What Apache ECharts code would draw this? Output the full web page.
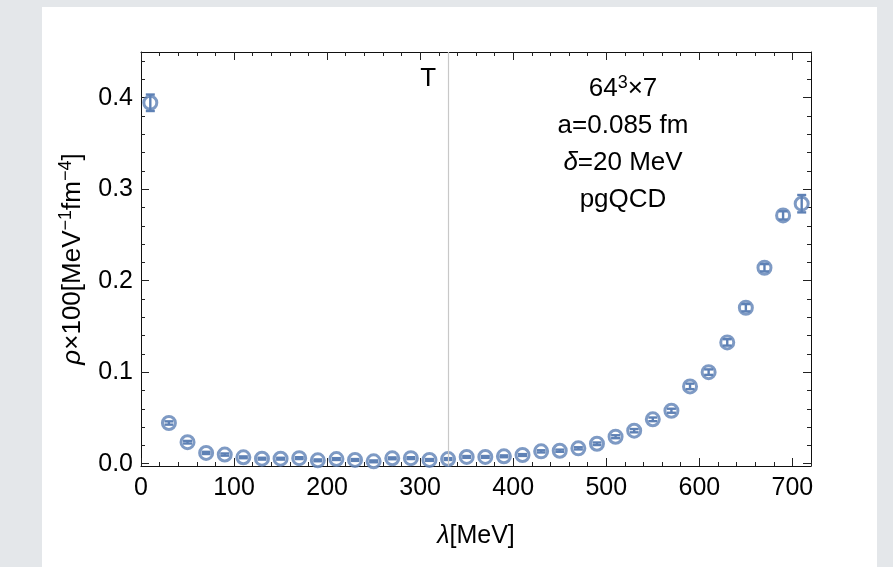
<!DOCTYPE html>
<html>
<head>
<meta charset="utf-8">
<script src="https://cdn.jsdelivr.net/npm/echarts@6/dist/echarts.min.js"></script>
<style>
  html, body { margin: 0; padding: 0; background: #e4e7ea; }
  #chart { width: 893px; height: 567px; }
</style>
</head>
<body>
<div id="chart"></div>
<script>
// lambda bins (MeV) and spectral density rho*100
const lambda = [10, 30, 50, 70, 90, 110, 130, 150, 170, 190, 210, 230, 250, 270, 290, 310, 330, 350,
  370, 390, 410, 430, 450, 470, 490, 510, 530, 550, 570, 590, 610, 630, 650, 670, 690, 710];
const rho = [0.3945, 0.0445, 0.0235, 0.0118, 0.0100, 0.0070, 0.0055, 0.0055, 0.0061, 0.0037, 0.0051, 0.0041,
  0.0026, 0.0059, 0.0061, 0.0041, 0.0051, 0.0074, 0.0074, 0.0081, 0.0095, 0.0135, 0.0142, 0.0168,
  0.0218, 0.0295, 0.0361, 0.0485, 0.0579, 0.0845, 0.1001, 0.1326, 0.1705, 0.2142, 0.2714, 0.2842];
const rhoErr = [0.009, 0.0018, 0.0014, 0.0012, 0.0012, 0.001, 0.001, 0.001, 0.001, 0.001, 0.001, 0.001,
  0.001, 0.001, 0.001, 0.001, 0.001, 0.001, 0.001, 0.001, 0.001, 0.0012, 0.0012, 0.0012,
  0.0014, 0.0016, 0.0018, 0.002, 0.0022, 0.003, 0.003, 0.0035, 0.004, 0.004, 0.0045, 0.0095];

const xMajor = [0, 100, 200, 300, 400, 500, 600, 700];
const xMinor = [20, 40, 60, 80, 120, 140, 160, 180, 220, 240, 260, 280, 320, 340, 360, 380,
  420, 440, 460, 480, 520, 540, 560, 580, 620, 640, 660, 680, 720];
const yMajor = [0, 0.1, 0.2, 0.3, 0.4];
const yMinor = [0.02, 0.04, 0.06, 0.08, 0.12, 0.14, 0.16, 0.18, 0.22, 0.24, 0.26, 0.28,
  0.32, 0.34, 0.36, 0.38, 0.42, 0.44];

const tValue = 330;
const infoLines = ['64{sup|3}×7', 'a=0.085 fm', '{i|δ}=20 MeV', 'pgQCD'];

const blue = '#5e81b5';
const font = 'Liberation Sans, Arial, sans-serif';
const X_MIN = 0, X_MAX = 720, Y_MIN = -0.0025, Y_MAX = 0.45;

const chart = echarts.init(document.getElementById('chart'));

const gridBox = { left: 141, right: 82, top: 52, bottom: 101, containLabel: false };

function xAxisOf(grid, pos, ticks, len, withLabels) {
  return {
    type: 'value', gridIndex: grid, position: pos, min: X_MIN, max: X_MAX,
    axisLine: { show: grid === 0, onZero: false, lineStyle: { color: '#111', width: 1 } },
    axisTick: { show: true, inside: true, length: len, customValues: ticks, lineStyle: { color: '#222', width: 1 } },
    axisLabel: {
      show: withLabels, customValues: ticks, fontSize: 25, color: '#000', fontFamily: font, margin: 10
    },
    splitLine: { show: false }
  };
}
function yAxisOf(grid, pos, ticks, len, withLabels) {
  return {
    type: 'value', gridIndex: grid, position: pos, min: Y_MIN, max: Y_MAX,
    axisLine: { show: grid === 0, onZero: false, lineStyle: { color: '#111', width: 1 } },
    axisTick: { show: true, inside: true, length: len, customValues: ticks, lineStyle: { color: '#222', width: 1 } },
    axisLabel: {
      show: withLabels, customValues: ticks, fontSize: 25, color: '#000', fontFamily: font, margin: 8,
      formatter: v => v.toFixed(1)
    },
    splitLine: { show: false }
  };
}

const xMain = xAxisOf(0, 'bottom', xMajor, 8, true);
xMain.name = '{i|λ}[MeV]';
xMain.nameLocation = 'middle';
xMain.nameGap = 58;
xMain.nameTextStyle = {
  fontSize: 25, color: '#000', fontFamily: font,
  rich: { i: { fontStyle: 'italic', fontSize: 25, fontFamily: font, color: '#000' } }
};

const yMain = yAxisOf(0, 'left', yMajor, 8, true);
yMain.name = '{i|ρ}×100[MeV{sup|−1}fm{sup|−4}]';
yMain.nameLocation = 'middle';
yMain.nameGap = 53;
yMain.nameTextStyle = {
  fontSize: 26, color: '#000', fontFamily: font, lineHeight: 30,
  rich: {
    i: { fontStyle: 'italic', fontSize: 26, fontFamily: font, color: '#000', lineHeight: 30 },
    sup: { fontSize: 18, fontFamily: font, color: '#000', verticalAlign: 'top', lineHeight: 16 }
  }
};

const option = {
  animation: false,
  backgroundColor: '#e4e7ea',
  grid: [Object.assign({}, gridBox), Object.assign({}, gridBox)],
  xAxis: [
    xMain,
    xAxisOf(0, 'top', xMajor, 8, false),
    xAxisOf(1, 'bottom', xMinor, 4, false),
    xAxisOf(1, 'top', xMinor, 4, false)
  ],
  yAxis: [
    yMain,
    yAxisOf(0, 'right', yMajor, 8, false),
    yAxisOf(1, 'left', yMinor, 4, false),
    yAxisOf(1, 'right', yMinor, 4, false)
  ],
  graphic: [
    { type: 'rect', z: -10, shape: { x: 42, y: 7, width: 835, height: 570 }, style: { fill: '#fff' }, silent: true }
  ],
  series: [
    {
      type: 'scatter', xAxisIndex: 0, yAxisIndex: 0,
      data: lambda.map((x, i) => [x, rho[i]]),
      symbol: 'circle', symbolSize: 13,
      itemStyle: { color: '#fff', borderColor: blue, borderWidth: 3 },
      z: 3,
      markLine: {
        silent: true, symbol: 'none', label: { show: false },
        lineStyle: { color: '#c8c8c8', width: 1.2, type: 'solid' },
        data: [{ xAxis: tValue }]
      }
    },
    {
      type: 'custom', xAxisIndex: 0, yAxisIndex: 0, z: 4,
      data: lambda.map((x, i) => [x, rho[i], rhoErr[i]]),
      encode: { x: 0, y: 1 },
      renderItem: function (params, api) {
        const x = api.value(0), y = api.value(1), e = api.value(2);
        const hi = api.coord([x, y + e]);
        const lo = api.coord([x, y - e]);
        const w = 4.5;
        const st = { stroke: blue, lineWidth: 2.4 };
        return {
          type: 'group',
          children: [
            { type: 'line', shape: { x1: hi[0], y1: hi[1], x2: lo[0], y2: lo[1] }, style: st },
            { type: 'line', shape: { x1: hi[0] - w, y1: hi[1], x2: hi[0] + w, y2: hi[1] }, style: st },
            { type: 'line', shape: { x1: lo[0] - w, y1: lo[1], x2: lo[0] + w, y2: lo[1] }, style: st }
          ]
        };
      }
    }
  ]
};
chart.setOption(option);

// annotation texts placed from the chart's own scale
const tPix = chart.convertToPixel({ xAxisIndex: 0, yAxisIndex: 0 }, [tValue, 0.41]);
const richInfo = {
  sup: { fontSize: 18, fontFamily: font, fill: '#000', verticalAlign: 'top', lineHeight: 14 },
  i: { fontStyle: 'italic', fontSize: 26, fontFamily: font, fill: '#000', lineHeight: 30 }
};
const extra = [
  {
    type: 'text', z: 10, x: tPix[0] - 20, y: 79,
    style: { text: 'T', fontSize: 26, fontFamily: font, fill: '#000', align: 'center', verticalAlign: 'middle' }
  }
];
infoLines.forEach(function (line, k) {
  extra.push({
    type: 'text', z: 10, x: 623, y: 89 + k * 37,
    style: {
      text: line, fontSize: 26, fontFamily: font, fill: '#000', lineHeight: 30,
      align: 'center', verticalAlign: 'middle', rich: richInfo
    }
  });
});
chart.setOption({ graphic: option.graphic.concat(extra) });
</script>
</body>
</html>
